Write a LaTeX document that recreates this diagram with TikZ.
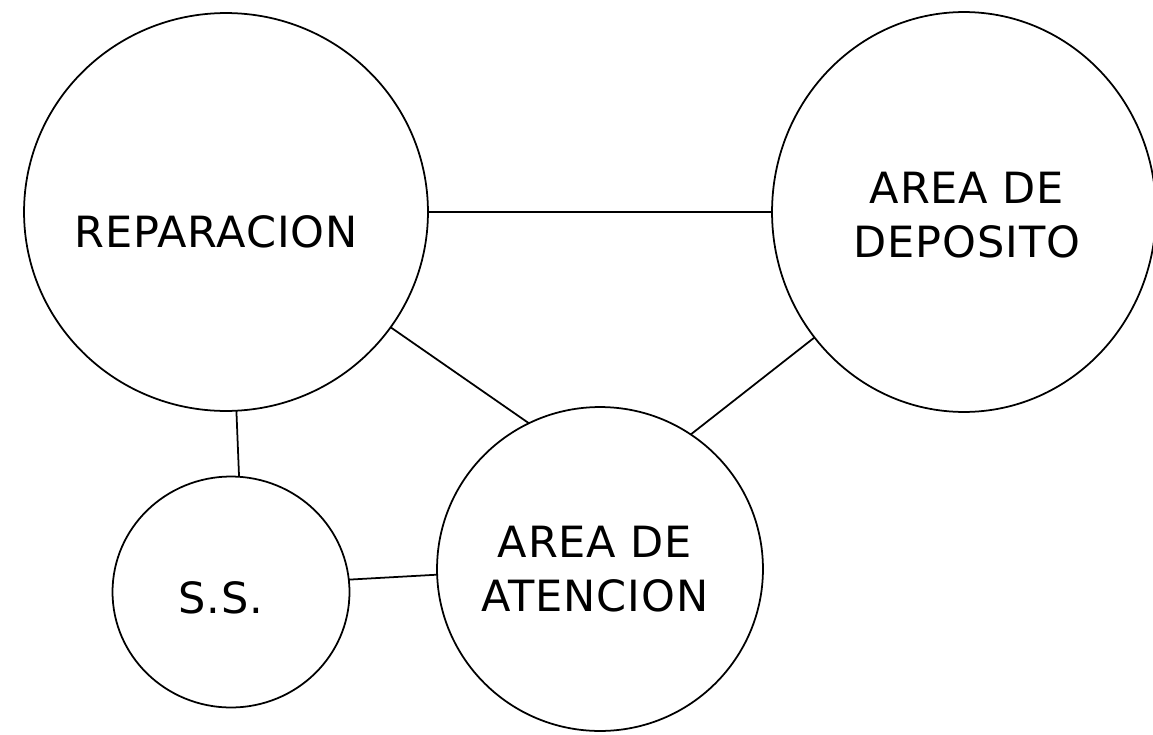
\documentclass[tikz,border=0pt]{standalone}
\usepackage{fontspec}
\setmainfont{DejaVu Sans}[LetterSpace=2]
\usetikzlibrary{shapes.geometric}
\begin{document}
\begin{tikzpicture}[x=0.02cm, y=-0.02cm,
  area/.style={ellipse, draw, line width=1pt, inner sep=0pt, outer sep=0pt},
  tag/.style={font=\fontsize{24.5}{31}\selectfont, align=center, inner sep=0pt},
  link/.style={line width=1pt}]
  \useasboundingbox (0,0) rectangle (1153,734);
  % areas
  \node[area, minimum width=8.08cm, minimum height=7.96cm] (rep) at (226,212) {};
  \node[area, minimum width=7.68cm, minimum height=8.0cm] (dep) at (964,212) {};
  \node[area, minimum width=6.52cm, minimum height=6.48cm] (aten) at (600,569) {};
  \node[area, minimum width=4.74cm, minimum height=4.62cm] (ss) at (231,592) {};
  % names
  \node[tag] (rept) at (216,232) {REPARACION};
  \node[tag] (dept) at (967,215) {AREA DE\\DEPOSITO};
  \node[tag] (atent) at (595,569) {AREA DE\\ATENCION};
  \node[tag] (sst) at (221,598) {S.S.};
  % connections
  \draw[link] (rep.east) -- (dep.west);
  \draw[link] (rep.-35) -- (aten.116);
  \draw[link] (dep.220) -- (aten.56);
  \draw[link] (rep.-87) -- (ss.86);
  \draw[link] (ss.6) -- (aten.182);
\end{tikzpicture}
\end{document}
